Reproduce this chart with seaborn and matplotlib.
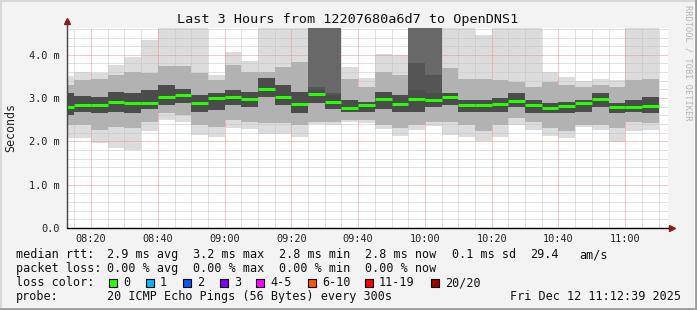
import matplotlib
matplotlib.use("Agg")
import matplotlib.pyplot as plt
import seaborn as sns
from matplotlib.patches import Rectangle
from matplotlib.lines import Line2D

# ---------------- data ----------------
times = ["08:10", "08:15", "08:20", "08:25", "08:30", "08:35", "08:40", "08:45", "08:50",
         "08:55", "09:00", "09:05", "09:10", "09:15", "09:20", "09:25", "09:30", "09:35",
         "09:40", "09:45", "09:50", "09:55", "10:00", "10:05", "10:10", "10:15", "10:20",
         "10:25", "10:30", "10:35", "10:40", "10:45", "10:50", "10:55", "11:00", "11:05"]
median = [2.80, 2.84, 2.83, 2.91, 2.89, 2.89, 3.03, 3.07, 2.89, 3.00, 3.03, 2.98, 3.20, 3.03,
          2.86, 3.09, 2.92, 2.78, 2.84, 2.97, 2.87, 2.97, 2.96, 3.03, 2.85, 2.85, 2.86, 2.94,
          2.85, 2.78, 2.82, 2.89, 2.98, 2.80, 2.79, 2.82]
ping_min = [2.07, 2.07, 1.97, 1.85, 1.80, 2.24, 2.50, 2.45, 2.15, 2.11, 2.32, 2.29, 2.16, 2.16,
            2.11, 2.40, 2.39, 2.45, 2.43, 2.28, 2.13, 2.26, 2.35, 2.14, 2.11, 2.01, 2.11, 2.38,
            2.27, 2.13, 2.07, 2.33, 2.27, 1.99, 2.24, 2.27]
ping_max = [3.51, 3.60, 3.59, 3.77, 3.96, 4.34, 4.70, 4.70, 4.70, 3.53, 4.07, 3.86, 4.70, 4.70,
            4.70, 4.70, 4.70, 3.73, 3.47, 4.01, 3.99, 4.70, 4.70, 4.70, 4.70, 4.46, 4.70, 4.70,
            4.70, 3.61, 3.49, 3.39, 3.44, 3.42, 4.70, 4.70]
mid_lo = [2.38, 2.38, 2.27, 2.34, 2.30, 2.46, 2.65, 2.61, 2.38, 2.34, 2.50, 2.46, 2.42, 2.42,
          2.38, 2.46, 2.46, 2.50, 2.50, 2.38, 2.30, 2.38, 2.46, 2.46, 2.38, 2.23, 2.38, 2.53,
          2.46, 2.30, 2.23, 2.38, 2.38, 2.30, 2.46, 2.42]
mid_hi = [3.30, 3.42, 3.45, 3.53, 3.61, 3.57, 3.75, 3.75, 3.57, 3.42, 3.76, 3.61, 3.61, 3.73,
          3.84, 3.26, 3.11, 3.45, 3.26, 3.61, 3.53, 3.19, 3.11, 3.69, 3.45, 3.45, 3.42, 3.38,
          3.26, 3.38, 3.30, 3.26, 3.30, 3.26, 3.42, 3.45]
core_lo = [2.61, 2.68, 2.65, 2.69, 2.65, 2.76, 2.84, 2.88, 2.68, 2.73, 2.84, 2.80, 3.03, 2.84,
           2.65, 2.88, 2.76, 2.69, 2.69, 2.76, 2.69, 2.69, 2.80, 2.84, 2.69, 2.69, 2.69, 2.80,
           2.65, 2.65, 2.65, 2.67, 2.80, 2.65, 2.67, 2.65]
core_hi = [3.11, 3.05, 3.03, 3.15, 3.11, 3.19, 3.30, 3.22, 3.07, 3.11, 3.19, 3.15, 3.46, 3.30,
           3.15, 3.19, 3.07, 2.96, 2.92, 3.15, 3.07, 3.19, 3.11, 3.11, 2.96, 2.96, 3.00, 3.11,
           2.96, 2.88, 2.92, 2.96, 3.11, 2.88, 2.96, 3.03]
# bars where many pings are very high (dark smoke up to the top)
heavy_times = ["09:25", "09:30", "09:55", "10:00"]
heavy_lo = [3.19, 3.07, 3.19, 3.11]
heavy_mid = [3.26, 3.11, 3.80, 3.53]

x_tick_labels = ["08:20", "08:40", "09:00", "09:20", "09:40", "10:00", "10:20", "10:40", "11:00"]
y_tick_vals = [0, 1, 2, 3, 4]
y_tick_labels = ["0.0", "1.0 m", "2.0 m", "3.0 m", "4.0 m"]

loss_labels = ["0", "1", "2", "3", "4-5", "6-10", "11-19", "20/20"]
loss_colors = ["#26ff00", "#00b8ff", "#0059ff", "#7e00ff", "#ff00ff", "#ff5500", "#ff0000", "#a10000"]


def to_min(t):
    h, m = t.split(":")
    return int(h) * 60 + int(m) - 8 * 60


starts = [to_min(t) for t in times]
heavy_x = [to_min(t) for t in heavy_times]
heavy_hi = [ping_max[starts.index(x)] for x in heavy_x]

# ---------------- figure ----------------
sns.set_theme(style="white")
MONO = ["DejaVu Sans Mono"]
plt.rcParams["font.family"] = MONO

W, H = 697, 310
fig = plt.figure(figsize=(W / 100, H / 100), dpi=100, facecolor="#f3f3f3")
ax = fig.add_axes([67 / W, 1 - 228 / H, 601 / W, 200 / H])
ax.set_facecolor("white")

XMIN, XMAX = 12.8, 192.8
YMAX = 4.62
ax.set_xlim(XMIN, XMAX)
ax.set_ylim(0, YMAX)

# smoke layers
ax.bar(starts, [b - a for a, b in zip(ping_min, ping_max)], bottom=ping_min, width=5,
       align="edge", color="#dcdcdc", linewidth=0, zorder=1)

# grid (dotted)
minor_x = [m for m in range(15, 195, 5) if m % 20 != 0]
major_x = [m for m in range(20, 195, 20)]
minor_y = [v / 10 for v in range(2, 47, 2) if v % 10 != 0]
major_y = [1, 2, 3, 4]
dots = (0, (1, 1))
ax.vlines(minor_x, 0, YMAX, colors="#c4c4c4", lw=0.72, linestyles=[dots], zorder=1.5)
ax.hlines(minor_y, XMIN, XMAX, colors="#c4c4c4", lw=0.72, linestyles=[dots], zorder=1.5)
ax.vlines(major_x, 0, YMAX, colors="#f09090", lw=0.72, linestyles=[dots], zorder=1.6)
ax.hlines(major_y, XMIN, XMAX, colors="#f09090", lw=0.72, linestyles=[dots], zorder=1.6)

ax.bar(starts, [b - a for a, b in zip(mid_lo, mid_hi)], bottom=mid_lo, width=5,
       align="edge", color="#b2b2b2", linewidth=0, zorder=2)
ax.bar(heavy_x, [b - a for a, b in zip(heavy_lo, heavy_mid)], bottom=heavy_lo, width=5,
       align="edge", color="#555555", linewidth=0, zorder=2.2)
ax.bar(heavy_x, [b - a for a, b in zip(heavy_mid, heavy_hi)], bottom=heavy_mid, width=5,
       align="edge", color="#686868", linewidth=0, zorder=2.2)
ax.bar(starts, [b - a for a, b in zip(core_lo, core_hi)], bottom=core_lo, width=5,
       align="edge", color="#4c4c4c", linewidth=0, zorder=3)

# median line
ax.hlines(median, starts, [s + 5 for s in starts], colors="#26ff00", lw=2.2, zorder=4)

# ticks
ax.set_xticks(major_x, labels=x_tick_labels)
ax.set_yticks(y_tick_vals, labels=y_tick_labels)
ax.tick_params(axis="both", length=0, labelsize=7.4, colors="#222222")
ax.tick_params(axis="y", pad=5)
ax.tick_params(axis="x", pad=4.5)
for s in ax.spines.values():
    s.set_visible(False)

# axes with arrows
ax.add_line(Line2D([XMIN, XMIN], [0, YMAX * 1.03], color="#444444", lw=1.0, clip_on=False, zorder=5))
ax.add_line(Line2D([XMIN, XMAX + 1.0], [0, 0], color="#000000", lw=1.0, clip_on=False, zorder=5))
ax.plot([XMIN], [YMAX * 1.035], marker="^", ms=4.5, color="#8b1a1a", clip_on=False, zorder=6)
ax.plot([XMAX + 1.2], [0], marker=">", ms=4.5, color="#8b1a1a", clip_on=False, zorder=6)

ax.set_ylabel("")
ax.set_xlabel("")


def P(x, y):
    return (x / W, 1 - y / H)


fig.text(*P(348, 19), "Last 3 Hours from 12207680a6d7 to OpenDNS1", ha="center", va="center",
         fontsize=9.7, color="#111111")
fig.text(*P(11, 127), "Seconds", rotation=90, ha="center", va="center", fontsize=8.4,
         color="#222222")
fig.text(*P(688, 5), "RRDTOOL / TOBI OETIKER", rotation=270, ha="center", va="top",
         fontsize=6.2, color="#b4b4b4")

LF = 8.5
line1 = [(16, "median rtt:"), (107, "2.9 ms avg"), (193, "3.2 ms max"), (279, "2.8 ms min"),
         (365, "2.8 ms now"), (452, "0.1 ms sd"), (530, "29.4"), (579, "am/s")]
line2 = [(16, "packet loss:"), (107, "0.00 % avg"), (193, "0.00 % max"), (279, "0.00 % min"),
         (365, "0.00 % now")]
for x, s in line1:
    fig.text(*P(x, 254.5), s, ha="left", va="center", fontsize=LF, color="#111111")
for x, s in line2:
    fig.text(*P(x, 268.5), s, ha="left", va="center", fontsize=LF, color="#111111")

fig.text(*P(16, 282.5), "loss color:", ha="left", va="center", fontsize=LF, color="#111111")
sq_x = [109, 146, 183, 220, 256, 308, 365, 431]
for x, lab, c in zip(sq_x, loss_labels, loss_colors):
    fig.add_artist(Rectangle(P(x, 286.5), 8 / W, 8 / H, transform=fig.transFigure,
                             facecolor=c, edgecolor="black", lw=0.8))
    fig.text(*P(x + 14, 282.5), lab, ha="left", va="center", fontsize=LF, color="#111111")

fig.text(*P(16, 296.5), "probe:", ha="left", va="center", fontsize=LF, color="#111111")
fig.text(*P(107, 296.5), "20 ICMP Echo Pings (56 Bytes) every 300s", ha="left", va="center",
         fontsize=LF, color="#111111")
fig.text(*P(681, 296.5), "Fri Dec 12 11:12:39 2025", ha="right", va="center", fontsize=LF,
         color="#111111")

# 3D-ish frame
fig.add_artist(Line2D([0, 1], [1 - 1 / H, 1 - 1 / H], transform=fig.transFigure, color="#d8d8d8", lw=1.5))
fig.add_artist(Line2D([1 / W, 1 / W], [0, 1], transform=fig.transFigure, color="#d8d8d8", lw=1.5))
fig.add_artist(Line2D([0, 1], [1.2 / H, 1.2 / H], transform=fig.transFigure, color="#9c9c9c", lw=2.0))
fig.add_artist(Line2D([1 - 1.2 / W, 1 - 1.2 / W], [0, 1], transform=fig.transFigure, color="#9c9c9c", lw=2.0))

fig.savefig("out.png", dpi=100, facecolor=fig.get_facecolor())
